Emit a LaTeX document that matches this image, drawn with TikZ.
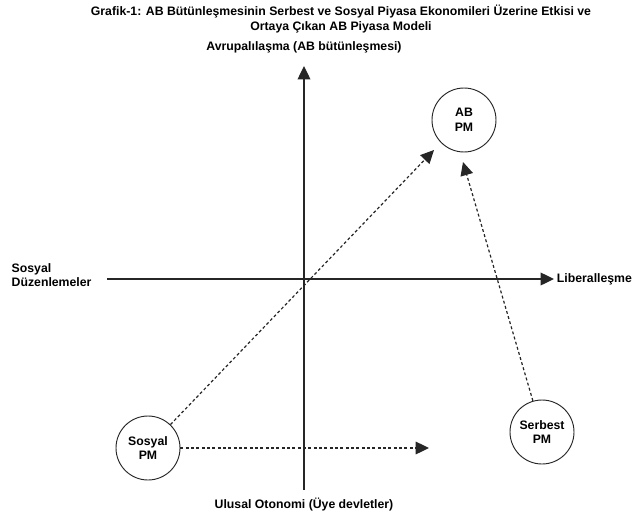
\documentclass[tikz,border=0pt]{standalone}
\usepackage{fontspec}
\setmainfont{Liberation Sans}
\usepackage{tikz}
\usetikzlibrary{arrows.meta}

\begin{document}
\begin{tikzpicture}[x=0.75pt,y=-0.75pt,>={Triangle[length=10pt,width=9.5pt]},
  every node/.style={font=\bfseries\fontsize{9.2}{11}\selectfont},
  pm/.style={circle,draw=black!85,line width=0.7pt,minimum size=48pt,inner sep=0pt,align=center},
  axis/.style={->,draw=black!85,line width=1pt},
  dasharrow/.style={->,draw=black!85,line width=0.9pt,dash pattern=on 2.2pt off 1.8pt}]
\useasboundingbox (0,0) rectangle (643,518);
\pgfmathsetmacro\ox{304}
\pgfmathsetmacro\oy{279}

\node (title) at (341,19) [align=center] {Grafik-1: AB Bütünleşmesinin Serbest ve Sosyal Piyasa Ekonomileri Üzerine Etkisi ve\\Ortaya Çıkan AB Piyasa Modeli};

% axes
\coordinate (top) at (\ox,66);
\coordinate (bottom) at (\ox,490);
\coordinate (left) at (107,\oy);
\coordinate (right) at (554,\oy);
\draw[axis] (bottom) -- (top);
\draw[axis] (left) -- (right);
\node (avr) at (\ox,47) {Avrupalılaşma (AB bütünleşmesi)};
\node (ulusal) at (\ox,505) {Ulusal Otonomi (Üye devletler)};
\node (sosyalduz) at (7,275) [anchor=west,align=left] {Sosyal\\Düzenlemeler};
\node (liberal) at (right) [anchor=west,inner sep=2pt] {Liberalleşme};

% models
\node[pm] (ab) at (464,120) {AB\\PM};
\node[pm] (sosyal) at (148,448) {Sosyal\\PM};
\node[pm] (serbest) at (542,432) {Serbest\\PM};

\coordinate (tipab) at (434,150);
\coordinate (tipserb) at (463,162);
\coordinate (tiplib) at (429,437);
\draw[dasharrow] (sosyal) -- (tipab);
\draw[dasharrow] (serbest) -- (tipserb);
\draw[dasharrow] (sosyal.east) -- (tiplib |- sosyal.east);
\end{tikzpicture}
\end{document}
